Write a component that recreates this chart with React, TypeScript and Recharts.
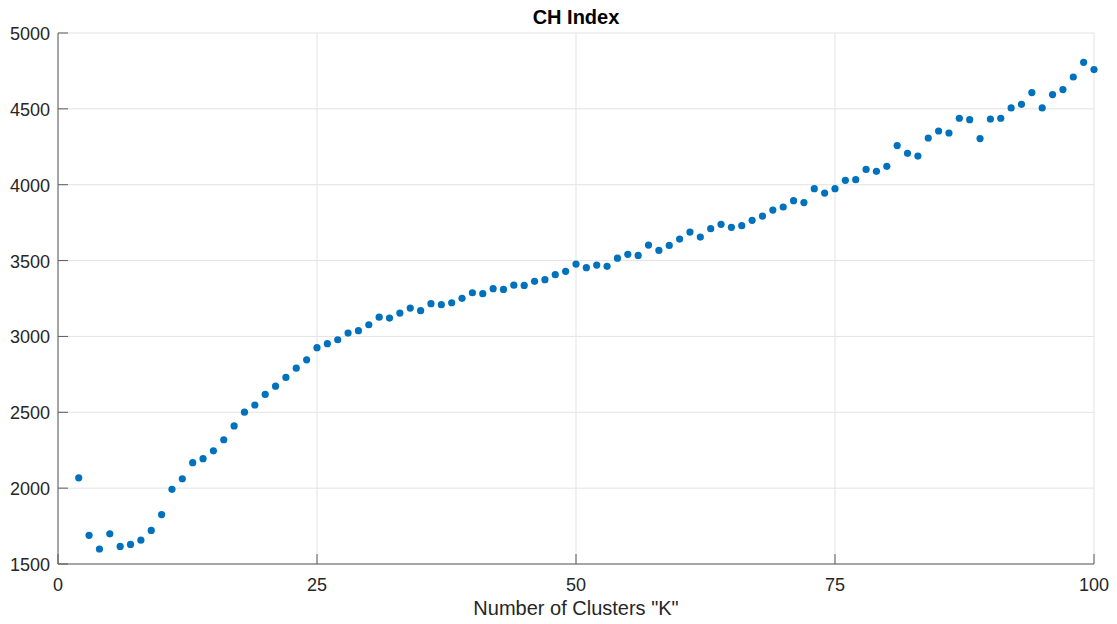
import React from 'react'
import { ScatterChart, Scatter, XAxis, YAxis, CartesianGrid } from 'recharts'

// K values (number of clusters)
const clusters = [
  2, 3, 4, 5, 6, 7, 8, 9, 10, 11, 12, 13, 14, 15, 16, 17, 18, 19, 20, 21,
  22, 23, 24, 25, 26, 27, 28, 29, 30, 31, 32, 33, 34, 35, 36, 37, 38, 39, 40, 41,
  42, 43, 44, 45, 46, 47, 48, 49, 50, 51, 52, 53, 54, 55, 56, 57, 58, 59, 60, 61,
  62, 63, 64, 65, 66, 67, 68, 69, 70, 71, 72, 73, 74, 75, 76, 77, 78, 79, 80, 81,
  82, 83, 84, 85, 86, 87, 88, 89, 90, 91, 92, 93, 94, 95, 96, 97, 98, 99, 100,
]

// Calinski-Harabasz index per K
const chIndex = [
  2068, 1689, 1599, 1699, 1616, 1629, 1657, 1721, 1826, 1992, 2062, 2168, 2194, 2246, 2319, 2410, 2501, 2548, 2618, 2672,
  2730, 2791, 2846, 2926, 2952, 2978, 3022, 3038, 3077, 3127, 3121, 3154, 3187, 3170, 3216, 3209, 3222, 3251, 3288, 3282,
  3315, 3310, 3338, 3336, 3363, 3374, 3407, 3429, 3477, 3453, 3470, 3462, 3516, 3541, 3534, 3602, 3567, 3600, 3642, 3688,
  3655, 3710, 3739, 3719, 3730, 3765, 3793, 3833, 3853, 3895, 3882, 3974, 3945, 3974, 4029, 4033, 4101, 4088, 4121, 4258,
  4207, 4189, 4308, 4354, 4341, 4438, 4429, 4304, 4433, 4438, 4506, 4530, 4607, 4506, 4594, 4627, 4710, 4807, 4759,
]

const xTicks = [0, 25, 50, 75, 100]
const yTicks = [1500, 2000, 2500, 3000, 3500, 4000, 4500, 5000]

const data = clusters.map((k, i) => ({ k, ch: chIndex[i] }))

const FONT = '"Liberation Sans", Arial, Helvetica, sans-serif'
const TEXT = '#262626'
const AXIS = '#5a5a5a'
const DOT = '#0072BD'

const XTick = (props: any) => {
  const { x, y, payload } = props
  return (
    <g>
      <line x1={x} x2={x} y1={y} y2={y - 10} stroke={AXIS} strokeWidth={1} />
      <text x={x} y={y + 27} textAnchor="middle" fontSize={18} fill={TEXT} fontFamily={FONT}>
        {payload.value}
      </text>
    </g>
  )
}

const YTick = (props: any) => {
  const { x, y, payload } = props
  return (
    <g>
      <line x1={x} x2={x + 10} y1={y} y2={y} stroke={AXIS} strokeWidth={1} />
      <text x={x - 8} y={y + 7} textAnchor="end" fontSize={18} fill={TEXT} fontFamily={FONT}>
        {payload.value}
      </text>
    </g>
  )
}

const Dot = (props: any) => <circle cx={props.cx} cy={props.cy} r={3.6} fill={DOT} />

export default function App() {
  return (
    <div style={{ position: 'absolute', left: 0, top: 0, width: 1117, height: 624, background: '#fff' }}>
      <ScatterChart width={1117} height={624} margin={{ top: 33, right: 23, left: 0, bottom: 0 }}>
        <CartesianGrid stroke="#e3e3e3" strokeWidth={1} />
        <XAxis
          type="number"
          dataKey="k"
          domain={[0, 100]}
          ticks={xTicks}
          height={60}
          tickSize={0}
          tickMargin={0}
          tickLine={false}
          axisLine={{ stroke: AXIS }}
          tick={<XTick />}
          interval={0}
        />
        <YAxis
          type="number"
          dataKey="ch"
          domain={[1500, 5000]}
          ticks={yTicks}
          width={58}
          tickSize={0}
          tickMargin={0}
          tickLine={false}
          axisLine={{ stroke: AXIS }}
          tick={<YTick />}
          interval={0}
        />
        <Scatter data={data} shape={<Dot />} isAnimationActive={false} />
      </ScatterChart>
      <svg
        width={1117}
        height={624}
        style={{ position: 'absolute', left: 0, top: 0, pointerEvents: 'none' }}
      >
        <text x={576} y={24} textAnchor="middle" fontSize={20} fontWeight="bold" fill="#000" fontFamily={FONT}>
          CH Index
        </text>
        <text x={576} y={615} textAnchor="middle" fontSize={20} fill={TEXT} fontFamily={FONT}>
          Number of Clusters "K"
        </text>
      </svg>
    </div>
  )
}
